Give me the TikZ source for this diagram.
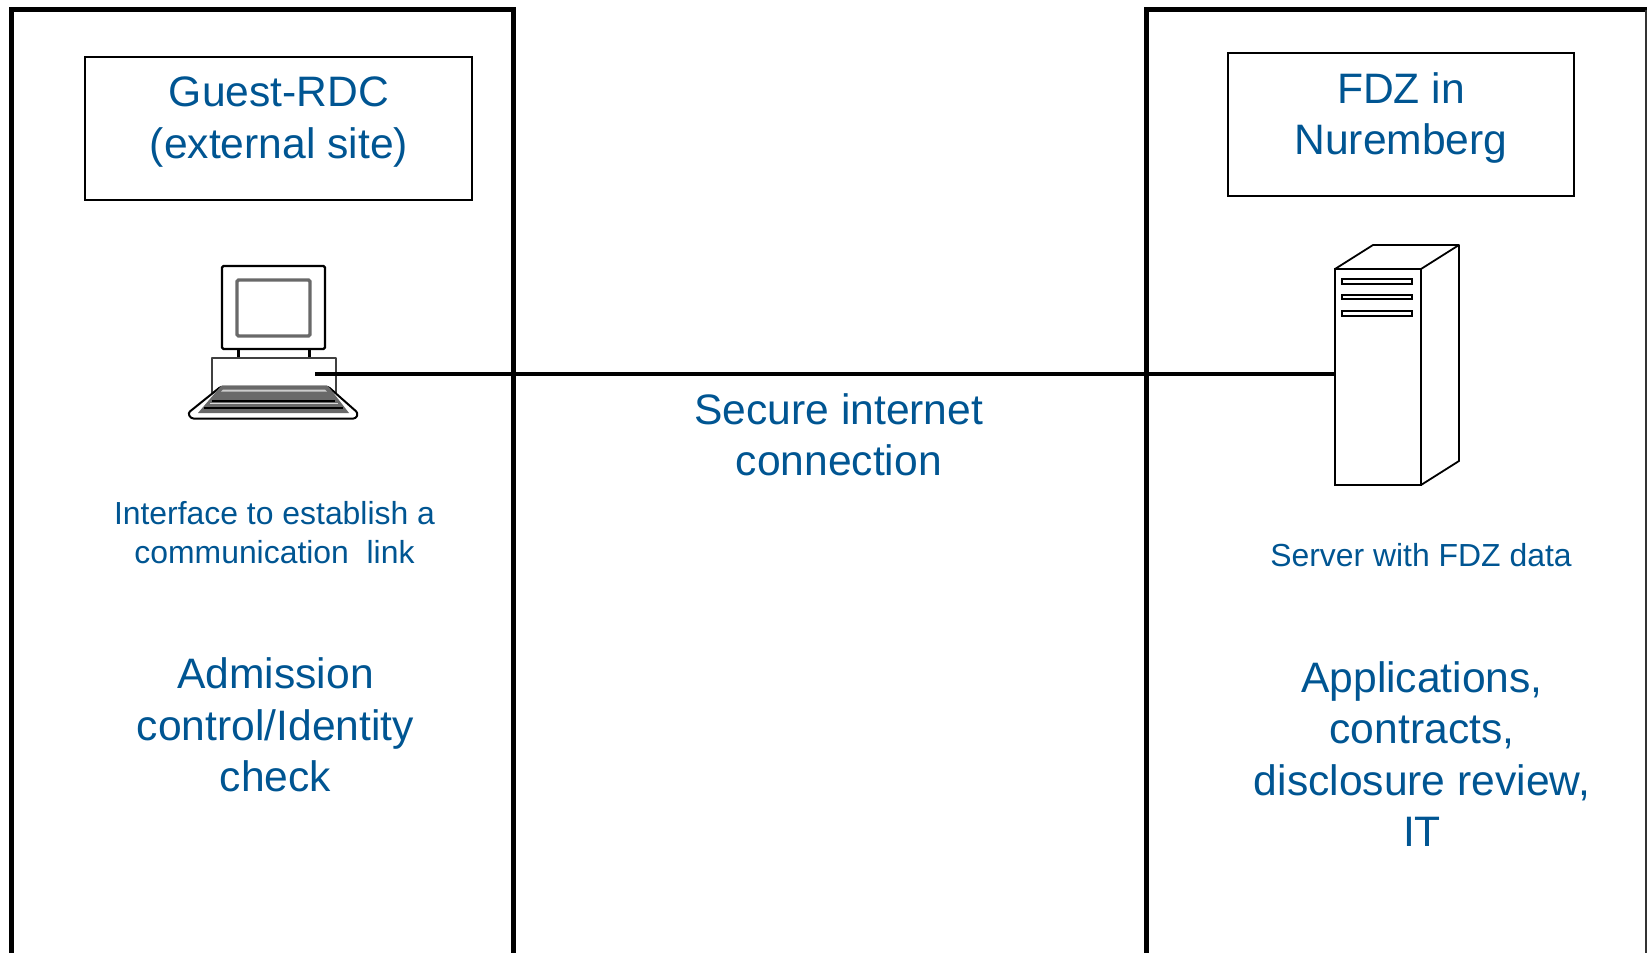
\documentclass[tikz,border=0pt]{standalone}
\usepackage{fontspec}
\setmainfont{Liberation Sans}
\definecolor{fdzblue}{RGB}{0,85,146}
\definecolor{icongray}{RGB}{105,105,105}
\tikzset{
  frameline/.style={line width=5pt,line join=miter},
  titlebox/.style={draw=black,line width=1.8pt,inner sep=0pt},
  bigtext/.style={text=fdzblue,align=center,inner sep=0pt,font=\fontsize{42.6}{51.5}\selectfont},
  smalltext/.style={text=fdzblue,align=center,inner sep=0pt,font=\fontsize{31.9}{39.4}\selectfont},
  iconline/.style={draw=black,line width=1.8pt,line join=round},
  link/.style={draw=black,line width=4pt}
}
\begin{document}
\begin{tikzpicture}[x=1pt,y=-1pt]
\useasboundingbox (0,0) rectangle (1647,953);
\clip (0,0) rectangle (1647,953);
% frames
\draw[frameline] (11.5,960) -- (11.5,9.5) -- (513.5,9.5) -- (513.5,960);
\draw[frameline] (1146,960) -- (1146,9.5) -- (1660,9.5);
\draw[draw=black!80,line width=2pt] (1646.4,9.5) -- (1646.4,960);
% title boxes
\node[titlebox,minimum width=386.5pt,minimum height=143pt] (guestbox) at (278.5,128.5) {};
\node[bigtext] (guest) at (279,122) {Guest-RDC\\(external site)};
\node[titlebox,minimum width=346pt,minimum height=143.5pt] (fdzbox) at (1401,124.5) {};
\node[bigtext] (fdz) at (1401,118) {FDZ in\\Nuremberg};
% computer
\draw[iconline,line width=2.4pt,rounded corners=1.5pt] (222,266) rectangle (325,349);
\draw[draw=icongray,line width=3.4pt,rounded corners=1.5pt] (237,280) rectangle (310,336);
\draw[black,line width=3pt] (238,349) -- (238,358) (309,349) -- (309,358);
\draw[iconline,line width=2.2pt,draw=black!75] (212,395) -- (212,358) -- (336,358) -- (336,395);
\draw[iconline,line width=2pt,fill=white,rounded corners=2.5pt] (221,386.5) -- (328,386.5) -- (358,413) -- (356,418.5) -- (191,418.5) -- (188,413) -- cycle;
\fill[icongray] (221,386) -- (328,386) -- (349,413) -- (198,413) -- cycle;
\fill[white!80!black] (223,389.5) -- (325,389.5) -- (327,391.5) -- (221,391.5) -- cycle;
\draw[black,line width=1.8pt] (212,400.8) -- (335,400.8) (204,408) -- (343,408);
\draw[white!85!black,line width=1.6pt] (210,403.6) -- (338,403.6);
\coordinate (pc) at (315,373.5);
% server
\draw[iconline,fill=white] (1335,269) -- (1373,245) -- (1459,245) -- (1459,461) -- (1421,485) -- (1421,269) -- cycle;
\draw[iconline] (1421,269) -- (1459,245);
\node[draw=black,line width=2.2pt,fill=white,inner sep=0pt,minimum width=86pt,minimum height=216pt] (server) at (1378,377) {};
\foreach \yy/\hh in {281.5/5,297/4,313.5/5}{
  \draw[black,line width=1.8pt,fill=white] (1342,\yy-\hh/2) rectangle (1412,\yy+\hh/2);
}
% connector
\draw[link] (pc) -- (server.west |- pc);
% labels
\node[bigtext] (link) at (838.8,435) {Secure internet\\connection};
\node[smalltext] (iface) at (274.5,532.5) {Interface to establish a\\communication\ \ link};
\node[smalltext] (srv) at (1421,555) {Server with FDZ data};
\node[bigtext] (adm) at (275.5,725) {Admission\\control/Identity\\check};
\node[bigtext] (apps) at (1422,754) {Applications,\\contracts,\\disclosure review,\\IT};
\end{tikzpicture}
\end{document}
